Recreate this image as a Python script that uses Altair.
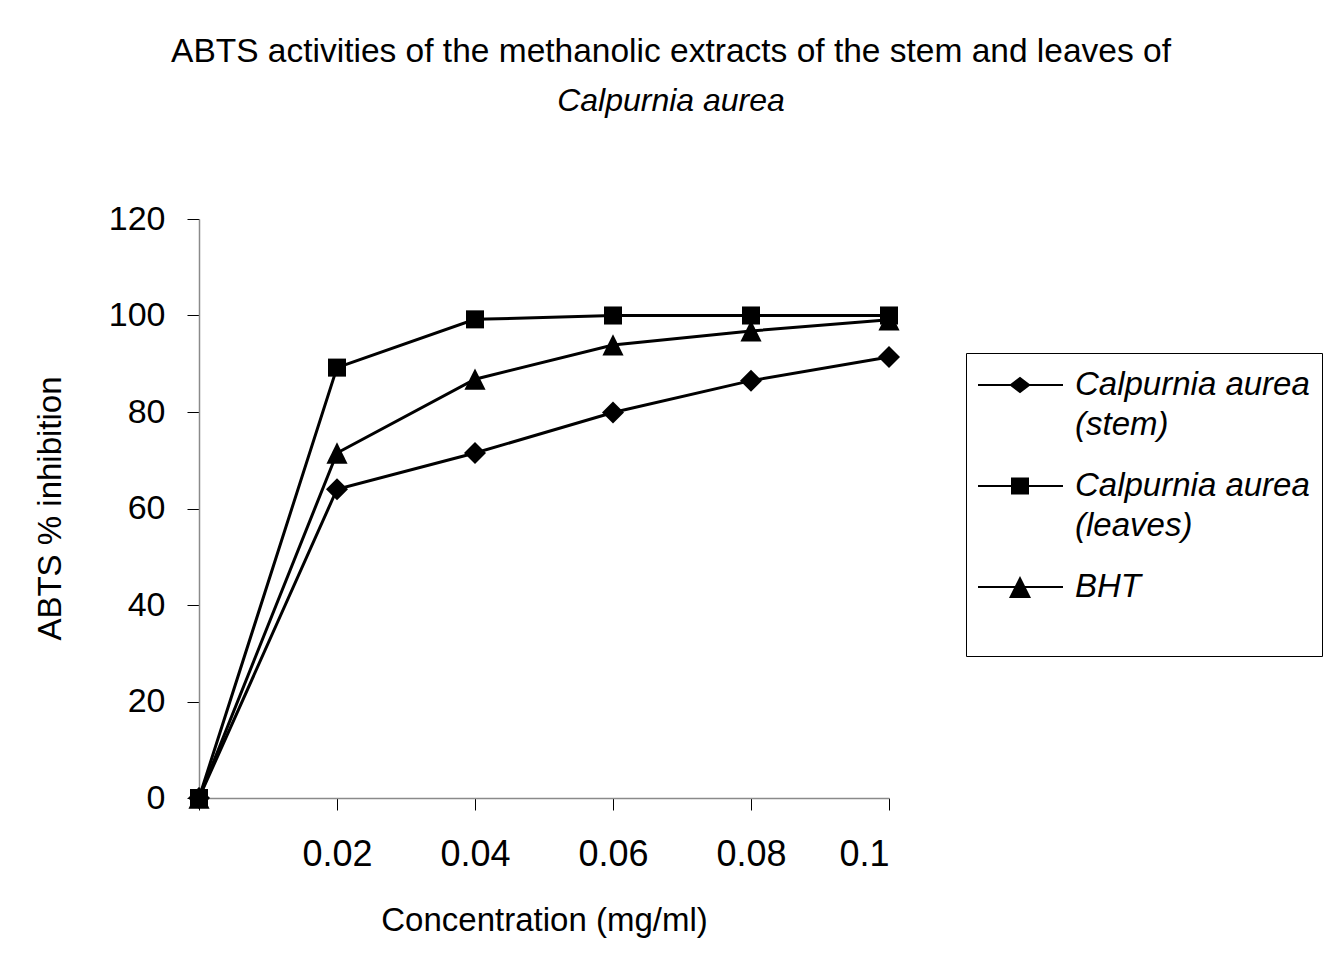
import altair as alt
import pandas as pd

# ---- data ----
conc = [0, 0.02, 0.04, 0.06, 0.08, 0.1]
stem = [0, 64.0, 71.5, 79.9, 86.5, 91.4]
leaves = [0, 89.2, 99.2, 100.0, 100.0, 100.0]
bht = [0, 71.5, 86.8, 93.9, 96.8, 99.1]
series = ["Calpurnia aurea (stem)", "Calpurnia aurea (leaves)", "BHT"]
x_ticks = [0, 0.02, 0.04, 0.06, 0.08, 0.1]
y_ticks = [0, 20, 40, 60, 80, 100, 120]

rows = []
for name, vals in zip(series, [stem, leaves, bht]):
    for c, v in zip(conc, vals):
        rows.append({"conc": c, "value": v, "series": name})
df = pd.DataFrame(rows)

# ---- marker styles ----
FONT = "Liberation Sans"
data_shapes = [
    "M0,-1L1,0L0,1L-1,0Z",
    "M-0.82,-0.82H0.82V0.82H-0.82Z",
    "M0,-0.97L0.96,0.97L-0.96,0.97Z",
]
# legend symbol: unit = 30 px (symbolSize 3600); line + marker, shifted up to first text line
cx = 0.4
dy = -0.333
t = 0.0333
line_path = f"M-1.0,{dy - t:.4f}H1.833V{dy + t:.4f}H-1.0Z"
legend_shapes = [
    line_path + f"M{cx},{dy - 0.277:.4f}L{cx + 0.36:.4f},{dy:.4f}L{cx},{dy + 0.277:.4f}L{cx - 0.36:.4f},{dy:.4f}Z",
    line_path + f"M{cx - 0.3:.4f},{dy - 0.283:.4f}H{cx + 0.3:.4f}V{dy + 0.283:.4f}H{cx - 0.3:.4f}Z",
    line_path + f"M{cx},{dy - 0.367:.4f}L{cx + 0.367:.4f},{dy + 0.367:.4f}L{cx - 0.367:.4f},{dy + 0.367:.4f}Z",
]

x_enc = alt.X(
    "conc:Q",
    scale=alt.Scale(domain=[0, 0.1], nice=False, zero=False),
    axis=alt.Axis(
        values=x_ticks,
        labelExpr="datum.value == 0 ? '' : format(datum.value, '~g')",
        title="Concentration (mg/ml)",
        titleFont=FONT, titleFontSize=33, titleFontWeight="normal", titleColor="black",
        titleBaseline="top", titleY=106,
        labelFont=FONT, labelFontSize=36, labelColor="black", labelPadding=27,
        tickSize=12, tickColor="black", tickWidth=1,
        domainColor="#8a8a8a", domainWidth=1.5, grid=False,
    ),
)
y_enc = alt.Y(
    "value:Q",
    scale=alt.Scale(domain=[0, 120], nice=False),
    axis=alt.Axis(
        values=y_ticks,
        title="ABTS % inhibition",
        titleFont=FONT, titleFontSize=33, titleFontWeight="normal", titleColor="black",
        titleBaseline="bottom", titleX=-132, titleY=289, titleAngle=270,
        labelFont=FONT, labelFontSize=34, labelColor="black", labelPadding=22,
        tickSize=12, tickColor="black", tickWidth=1,
        domainColor="#8a8a8a", domainWidth=1.5, grid=False,
    ),
)

base = alt.Chart(df)

lines = base.mark_line(color="black", strokeWidth=3).encode(
    x=x_enc, y=y_enc, detail="series:N"
)

points = base.mark_point(filled=True, color="black", size=484, opacity=1, strokeWidth=0).encode(
    x=x_enc,
    y=y_enc,
    shape=alt.Shape("series:N", scale=alt.Scale(domain=series, range=data_shapes), legend=None),
)

label_expr = (
    "indexof(datum.label, '(') > 0 ? "
    "[slice(datum.label, 0, indexof(datum.label, '(') - 1), slice(datum.label, indexof(datum.label, '('))]"
    " : [datum.label, ' ']"
)

legend_layer = base.transform_filter("datum.value < 0").mark_point(
    filled=True, color="black", size=3600, opacity=1, strokeWidth=0
).encode(
    x=x_enc,
    y=y_enc,
    shape=alt.Shape(
        "series:N",
        scale=alt.Scale(domain=series, range=legend_shapes),
        legend=alt.Legend(
            title=None, orient="none", legendX=767, legendY=134, direction="vertical",
            padding=12, strokeColor="black", fillColor="white",
            labelFont=FONT, labelFontSize=33, labelFontStyle="italic", labelColor="black",
            labelBaseline="alphabetic", labelOffset=37, labelLimit=600,
            rowPadding=24, symbolSize=3600, symbolStrokeWidth=0, symbolOffset=0,
            labelExpr=label_expr,
        ),
    ),
)

chart = (
    alt.layer(lines, points, legend_layer)
    .resolve_scale(shape="independent")
    .properties(
        width=690,
        height=579,
        title=alt.TitleParams(
            text="ABTS activities of the methanolic extracts of the stem and leaves of",
            subtitle="Calpurnia aurea",
            anchor="middle", dx=127, offset=84,
            font=FONT, fontSize=33.5, fontWeight="normal", color="black",
            subtitleFont=FONT, subtitleFontSize=32, subtitleFontStyle="italic",
            subtitleColor="black", subtitlePadding=17,
        ),
        autosize=alt.AutoSizeParams(type="none"),
        padding={"left": 191, "top": 211, "right": 436, "bottom": 160},
    )
    .configure(
        background="white",
        style={"guide-label": {"lineHeight": 40}},
        view=alt.ViewConfig(stroke=None),
    )
)

chart.save("out.html", embed_options={"renderer": "svg", "actions": False})
